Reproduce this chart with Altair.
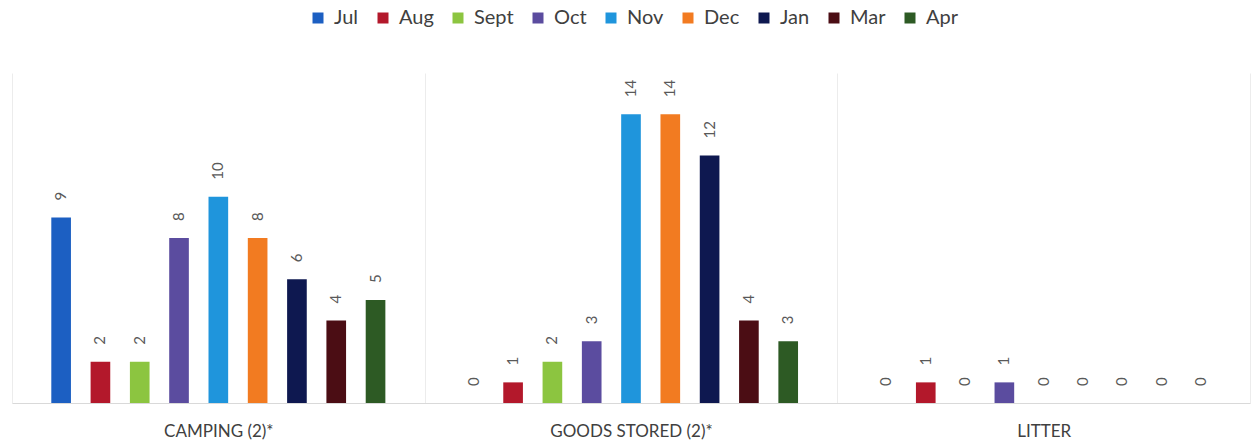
import altair as alt
import pandas as pd

categories = ["CAMPING (2)*", "GOODS STORED (2)*", "LITTER"]
months = ["Jul", "Aug", "Sept", "Oct", "Nov", "Dec", "Jan", "Mar", "Apr"]
colors = ["#1c5fc2", "#b3182b", "#8cc540", "#5b4c9f", "#1f95dc", "#f27b21", "#0e1850", "#4b0d14", "#2d5a24"]
camping = [9, 2, 2, 8, 10, 8, 6, 4, 5]
goods_stored = [0, 1, 2, 3, 14, 14, 12, 4, 3]
litter = [0, 1, 0, 1, 0, 0, 0, 0, 0]

rows = []
for cat, vals in zip(categories, [camping, goods_stored, litter]):
    for m, v in zip(months, vals):
        rows.append({"category": cat, "month": m, "value": v})
df = pd.DataFrame(rows)

FONT = "Lato"

x = alt.X("category:N", sort=categories, title=None,
          scale=alt.Scale(paddingInner=0, paddingOuter=0),
          axis=alt.Axis(labelAngle=0, ticks=False, grid=True, tickBand="extent",
                        gridColor="#ececec", domainColor="#d9d9d9", labelFont=FONT,
                        labelFontSize=17, labelColor="#404040", labelPadding=20))
xo = alt.XOffset("month:N", sort=months,
                 scale=alt.Scale(paddingInner=0.5, paddingOuter=1))
y = alt.Y("value:Q", scale=alt.Scale(domain=[0, 16]), axis=None)

bars = alt.Chart(df).mark_bar().encode(
    x=x, xOffset=xo, y=y,
    color=alt.Color("month:N", sort=months,
                    scale=alt.Scale(domain=months, range=colors),
                    legend=alt.Legend(title=None, orient="none", direction="horizontal",
                                      legendX=296, legendY=-65,
                                      symbolType="square", symbolSize=121, symbolStrokeWidth=0,
                                      labelFont=FONT, labelFontSize=20, labelColor="#404040",
                                      columnPadding=14, labelOffset=6)),
)

labels = alt.Chart(df).mark_text(angle=270, align="left", baseline="middle", dx=17,
                                 font=FONT, fontSize=15, color="#595959").encode(
    x=x, xOffset=xo, y=y, text="value:Q")

chart = alt.layer(bars, labels).properties(
    width=1238, height=330,
    autosize=alt.AutoSizeParams(type="none"),
    padding={"left": 12, "top": 73, "right": 1, "bottom": 45},
).configure_view(stroke=None)

chart.save("out.html", embed_options={"renderer": "svg", "actions": False})
